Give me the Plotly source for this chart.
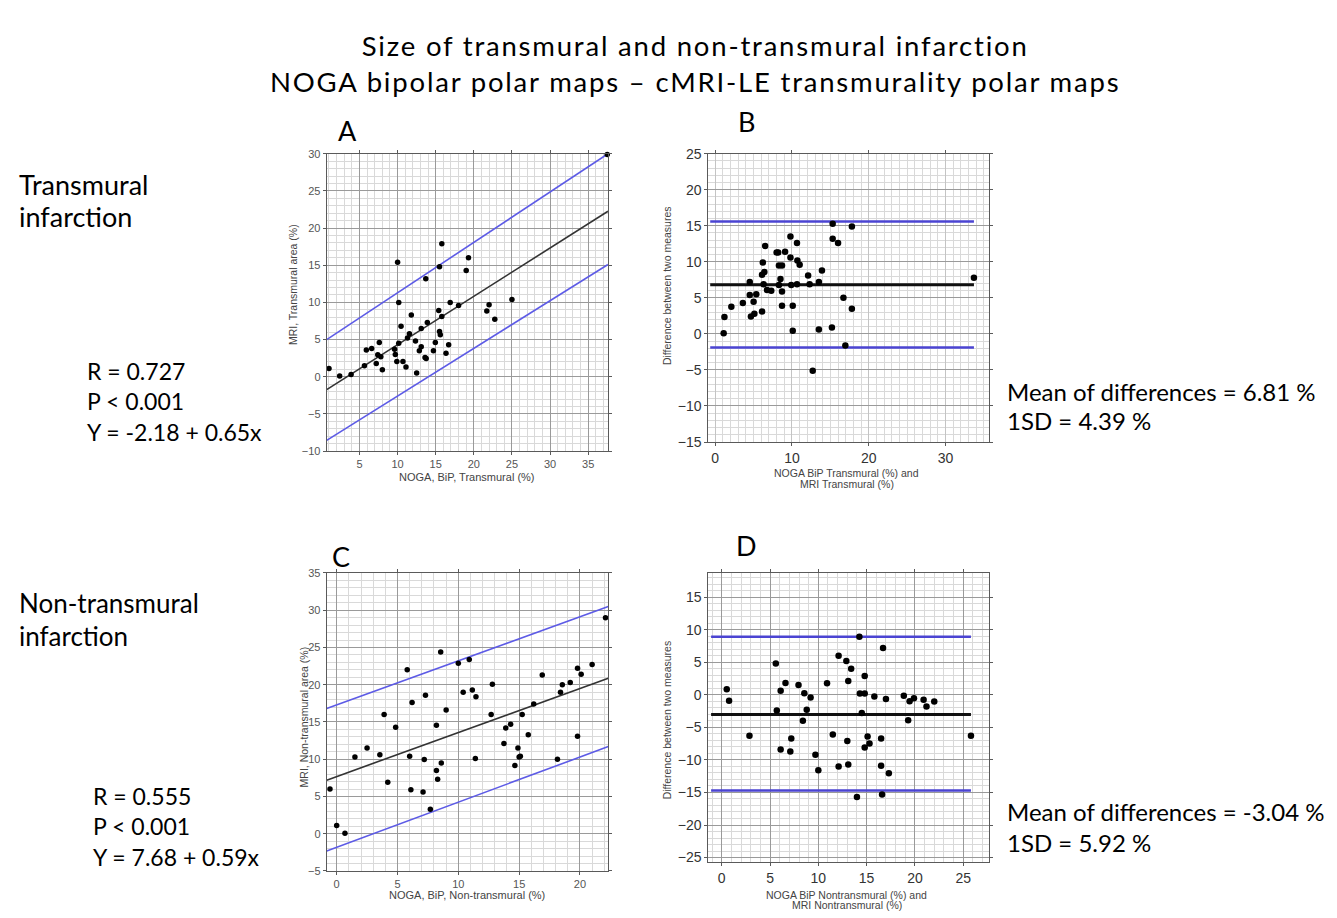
import plotly.graph_objects as go

W, H = 1337, 918

# ---------------- Data ----------------
# Panel A: NOGA BiP transmural (%) vs MRI transmural area (%)
a_x = [1.0, 2.4, 3.9, 5.65, 5.9, 6.6, 7.2, 7.4, 7.6, 7.8, 8.0, 9.6, 9.7, 9.9, 10.0, 10.15, 10.15,
       10.45, 10.7, 11.1, 11.3, 11.55, 11.8, 12.35, 12.5, 12.85, 13.1, 13.1, 13.6, 13.75, 13.7, 13.9,
       14.7, 14.95, 15.4, 15.5, 15.5, 15.6, 15.8, 15.8, 16.35, 16.7, 16.9, 18.0, 19.0, 19.3, 21.7,
       22.0, 22.75, 25.0, 37.5]
a_y = [1.1, 0.1, 0.3, 1.5, 3.6, 3.8, 1.8, 2.95, 4.6, 2.7, 0.95, 3.7, 3.0, 2.05, 15.4, 10.0, 4.5,
       6.8, 2.05, 1.3, 5.2, 5.8, 8.3, 4.8, 0.5, 3.5, 4.05, 6.5, 2.6, 2.45, 13.2, 7.3,
       3.5, 4.6, 8.9, 14.8, 6.1, 5.65, 8.1, 17.9, 3.15, 4.3, 10.0, 9.6, 14.3, 16.0, 8.85,
       9.7, 7.75, 10.4, 29.9]
a_range_x = [0.7, 37.6]
a_range_y = [-10, 30]
a_fit = [-2.18, 0.65]            # intercept, slope
a_band_hi = [5.0, 30.0]          # upper band at the two x ends
a_band_lo = [-8.55, 15.1]        # lower band at the two x ends

# Panel B: Bland-Altman, transmural
b_x = [1.1, 1.2, 2.1, 3.6, 4.5, 4.5, 4.65, 5.0, 5.1, 5.35, 6.1, 6.1, 6.4, 6.2, 6.5, 6.3, 6.75, 7.3,
       8.0, 8.2, 8.3, 8.7, 8.3, 8.5, 8.7, 8.7, 9.1, 9.8, 9.8, 9.9, 10.1, 10.1, 10.65, 10.7, 11.0,
       10.65, 12.1, 12.3, 12.7, 13.5, 13.5, 13.9, 15.2, 15.3, 15.3, 16.0, 16.7, 16.95, 17.8, 17.8,
       33.7]
b_y = [0.1, 2.35, 3.75, 4.3, 7.2, 5.4, 2.4, 4.45, 2.8, 5.5, 3.1, 8.2, 8.6, 9.9, 12.2, 6.9, 6.1, 6.0,
       11.3, 11.3, 9.5, 9.5, 6.8, 7.6, 5.9, 3.9, 11.4, 13.5, 10.6, 6.8, 3.9, 0.45, 12.6, 10.2, 9.6,
       6.9, 8.1, 6.9, -5.1, 7.2, 0.6, 8.8, 0.9, 15.3, 13.2, 12.6, 5.0, -1.6, 14.9, 3.5,
       7.8]
b_range_x = [-0.9, 35.7]
b_range_y = [-15, 25]
b_line_x = [-0.65, 33.7]
b_mean = 6.81
b_limits = [15.6, -1.9]

# Panel C: NOGA BiP non-transmural (%) vs MRI non-transmural area (%)
c_x = [-0.55, 0.0, 0.68, 1.5, 2.5, 3.55, 3.9, 4.2, 4.85, 5.8, 6.0, 6.2, 6.1, 7.1, 7.2, 7.3, 7.7,
       8.2, 8.2, 8.3, 8.55, 8.6, 9.0, 10.0, 10.4, 10.9, 11.15, 11.45, 11.4, 12.7, 12.8, 13.75, 13.9,
       14.3, 14.65, 14.9, 15.0, 15.1, 15.25, 15.75, 16.2, 16.9, 18.15, 18.4, 18.55, 19.2, 19.8,
       19.8, 20.1, 21.0, 22.1]
c_y = [6.0, 1.1, 0.05, 10.3, 11.5, 10.6, 16.0, 6.9, 14.3, 22.0, 10.4, 17.6, 5.9, 5.6, 9.95, 18.6, 3.3,
       14.55, 8.5, 7.3, 24.4, 9.5, 16.6, 22.9, 19.0, 23.4, 19.3, 18.4, 10.1, 16.0, 20.05, 12.1, 14.2,
       14.7, 9.15, 11.5, 10.3, 10.4, 16.0, 13.3, 17.4, 21.3, 10.0, 19.0, 20.0, 20.3, 13.1,
       22.2, 21.4, 22.7, 29.0]
c_range_x = [-0.82, 22.33]
c_range_y = [-5, 35]
c_fit = [7.68, 0.59]
c_band_hi = [16.8, 30.5]
c_band_lo = [-2.3, 11.7]

# Panel D: Bland-Altman, non-transmural
d_x = [0.52, 0.76, 2.87, 5.6, 5.7, 6.1, 6.1, 6.6, 7.1, 7.2, 7.95, 8.4, 8.55, 8.8, 9.2, 9.7, 10.0,
       10.9, 11.5, 12.1, 12.1, 12.9, 13.0, 13.1, 13.1, 13.4, 14.0, 14.25, 14.3, 14.5, 14.8, 14.8,
       14.8, 15.1, 15.3, 15.8, 16.5, 16.5, 16.6, 16.7, 17.0, 17.3, 18.85, 19.3, 19.45, 19.9, 20.9,
       21.2, 22.0, 25.8]
d_y = [0.85, -0.9, -6.3, 4.8, -2.4, 0.6, -8.4, 1.8, -8.7, -6.7, 1.5, -4.0, 0.25, -2.3, -0.4, -9.2,
       -11.6, 1.75, -6.1, 6.0, -11.0, 5.2, -7.1, 2.1, -10.7, 4.0, -15.7, 8.9, 0.2, -2.8, 0.2, 2.9,
       -8.1, -6.4, -7.5, -0.25, -6.7, -10.9, -15.3, 7.2, -0.65, -12.05, -0.15, -3.9, -1.0, -0.55,
       -0.75, -1.8, -1.05, -6.3]
d_range_x = [-1.39, 27.7]
d_range_y = [-25.7, 18.7]
d_line_x = [-1.1, 25.8]
d_mean = -3.04
d_limits = [8.9, -14.7]

title_lines = ['Size of transmural and non-transmural infarction',
               'NOGA bipolar polar maps \u2013 cMRI-LE transmurality polar maps']

# ---------------- Layout helpers ----------------
def px_x(p):
    return p / W

def px_y(p):
    return 1 - p / H

MAJOR = '#9a9a9a'
MINOR = '#d9d9d9'
FRAME = '#5a5a5a'
BLUE_AC = '#5d5be6'
BLUE_BD = '#4b44d2'
TXT = 'Lato, Arial, sans-serif'

fig = go.Figure()

def add_points(x, y, xa, ya, size):
    fig.add_trace(go.Scatter(x=x, y=y, mode='markers', xaxis=xa, yaxis=ya,
                             marker=dict(color='black', size=size), cliponaxis=False,
                             showlegend=False, hoverinfo='x+y'))

def add_line(x, y, xa, ya, color, width):
    fig.add_trace(go.Scatter(x=x, y=y, mode='lines', xaxis=xa, yaxis=ya,
                             line=dict(color=color, width=width), showlegend=False,
                             hoverinfo='skip'))

# Panel A
add_line(a_range_x, a_band_hi, 'x', 'y', BLUE_AC, 1.6)
add_line(a_range_x, a_band_lo, 'x', 'y', BLUE_AC, 1.6)
add_line(a_range_x, [a_fit[0] + a_fit[1] * v for v in a_range_x], 'x', 'y', '#333333', 1.6)
add_points(a_x, a_y, 'x', 'y', 5.5)

# Panel B
add_line(b_line_x, [b_limits[0]] * 2, 'x2', 'y2', BLUE_BD, 2.5)
add_line(b_line_x, [b_limits[1]] * 2, 'x2', 'y2', BLUE_BD, 2.5)
add_line(b_line_x, [b_mean] * 2, 'x2', 'y2', '#111111', 3)
add_points(b_x, b_y, 'x2', 'y2', 6.5)

# Panel C
add_line(c_range_x, c_band_hi, 'x3', 'y3', BLUE_AC, 1.6)
add_line(c_range_x, c_band_lo, 'x3', 'y3', BLUE_AC, 1.6)
add_line(c_range_x, [c_fit[0] + c_fit[1] * v for v in c_range_x], 'x3', 'y3', '#333333', 1.6)
add_points(c_x, c_y, 'x3', 'y3', 5.5)

# Panel D
add_line(d_line_x, [d_limits[0]] * 2, 'x4', 'y4', BLUE_BD, 2.5)
add_line(d_line_x, [d_limits[1]] * 2, 'x4', 'y4', BLUE_BD, 2.5)
add_line(d_line_x, [d_mean] * 2, 'x4', 'y4', '#111111', 3)
add_points(d_x, d_y, 'x4', 'y4', 6.5)


def axis(domain, rng, dtick, anchor, fsize, fcolor, gridcolor=MAJOR):
    return dict(domain=domain, range=rng, dtick=dtick, tick0=0, anchor=anchor,
                showgrid=True, gridcolor=gridcolor, gridwidth=1, zeroline=False,
                showline=True, linecolor=FRAME, linewidth=1, mirror='ticks',
                ticks='outside', ticklen=3, tickcolor=FRAME,
                tickfont=dict(family='Arial, Liberation Sans, sans-serif', size=fsize, color=fcolor),
                minor=dict(dtick=1, showgrid=True, gridcolor=MINOR, gridwidth=1),
                fixedrange=True)

# domains in pixels
A_X = [326.7, 608.0]; A_Y = [148.3, 451.0]
B_X = [708.3, 989.3]; B_Y = [148.3, 441.7]
C_X = [326.7, 608.3]; C_Y = [575.0, 878.3]
D_X = [708.3, 989.3]; D_Y = [575.0, 869.3]

def dx(p):
    return [px_x(p[0]), px_x(p[1])]

def dy(p):
    return [px_y(p[1]), px_y(p[0])]

fig.update_layout(
    width=W, height=H, margin=dict(l=0, r=0, t=0, b=0),
    paper_bgcolor='white', plot_bgcolor='white',
    xaxis=axis(dx(A_X), a_range_x, 5, 'y', 11, '#555555'),
    yaxis=axis(dy(A_Y), a_range_y, 5, 'x', 11, '#555555'),
    xaxis2=axis(dx(B_X), b_range_x, 10, 'y2', 14, '#333333', gridcolor='#c4c4c4'),
    yaxis2=axis(dy(B_Y), b_range_y, 5, 'x2', 14, '#333333'),
    xaxis3=axis(dx(C_X), c_range_x, 5, 'y3', 11, '#555555'),
    yaxis3=axis(dy(C_Y), c_range_y, 5, 'x3', 11, '#555555'),
    xaxis4=axis(dx(D_X), d_range_x, 5, 'y4', 14, '#333333'),
    yaxis4=axis(dy(D_Y), d_range_y, 5, 'x4', 14, '#333333'),
)

ann = []

def text(s, x, y, size, xanchor='left', color='black', family=TXT, angle=0):
    ann.append(dict(text=s, x=px_x(x), y=px_y(y), xref='paper', yref='paper',
                    xanchor=xanchor, yanchor='middle', showarrow=False, textangle=angle,
                    font=dict(family=family, size=size, color=color)))

# Title (two lines in one block, slightly letter-spaced)
title_html = '<br>'.join('<span style="letter-spacing:1.8px">%s</span>' % t for t in title_lines)
text(title_html, 695, 56, 27.5, 'center')

# Panel letters
text('A', 347, 125, 27, 'center')
text('B', 746, 116, 27, 'center')
text('C', 341, 558, 27, 'center')
text('D', 746, 547, 27, 'center')

# Row labels
text('Transmural', 17, 180, 27)
text('infarction', 17, 212, 27)
text('Non-transmural', 17, 606, 26)
text('infarction', 17, 639, 26)

# Regression statistics
text('R = 0.727', 85, 369, 23)
text('P < 0.001', 85, 400, 23)
text('Y = -2.18 + 0.65x', 85, 432, 23)
text('R = 0.555', 91, 802, 23)
text('P < 0.001', 91, 833, 23)
text('Y = 7.68 + 0.59x', 91, 864, 23)

# Bland-Altman statistics
text('Mean of differences = 6.81 %', 1005, 390, 24)
text('1SD = 4.39 %', 1005, 420, 24)
text('Mean of differences = -3.04 %', 1005, 818, 24)
text('1SD = 5.92 %', 1005, 849, 24)

# Axis titles
AX = 'Arial, Liberation Sans, sans-serif'
text('NOGA, BiP, Transmural (%)', 467, 477, 11, 'center', '#444444', AX)
text('MRI, Transmural area (%)', 293, 282, 10.5, 'center', '#444444', AX, -90)
text('NOGA BiP Transmural (%) and', 847, 473, 10.5, 'center', '#444444', AX)
text('MRI Transmural (%)', 847, 484, 10.5, 'center', '#444444', AX)
text('Difference between two measures', 667, 283, 10.5, 'center', '#444444', AX, -90)
text('NOGA, BiP, Non-transmural (%)', 467, 903, 11, 'center', '#444444', AX)
text('MRI, Non-transmural area (%)', 304, 722, 10.5, 'center', '#444444', AX, -90)
text('NOGA BiP Nontransmural (%) and', 847, 903, 10.5, 'center', '#444444', AX)
text('MRI Nontransmural (%)', 847, 913, 10.5, 'center', '#444444', AX)
text('Difference between two measures', 667, 725, 10.5, 'center', '#444444', AX, -90)

fig.update_layout(annotations=ann)

fig.write_html('out.html', config={'displayModeBar': False},
               post_script="document.body.style.margin='0px';document.body.style.overflow='hidden';")
